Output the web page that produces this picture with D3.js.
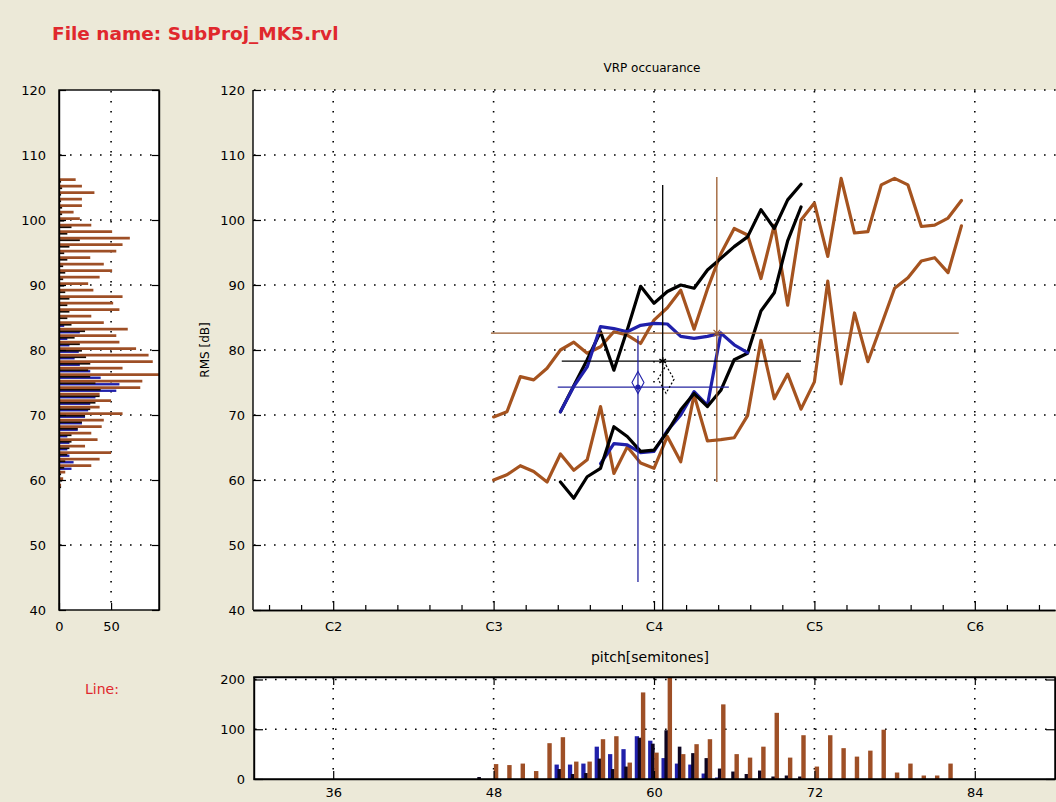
<!DOCTYPE html>
<html>
<head>
<meta charset="utf-8">
<title>VRP occuarance</title>
<script src="https://cdn.jsdelivr.net/npm/d3@7"></script>
<style>
  body { margin: 0; background: #ece9d8; }
  text { font-family: "DejaVu Sans", sans-serif; }
</style>
</head>
<body>
<div id="chart"></div>
<script>
// ---------------- data ----------------
// contour of each take: pitch (semitones) -> upper / lower RMS (dB)
var brownPitch = [48, 49, 50, 51, 52, 53, 54, 55, 56, 57, 58, 59, 60, 61, 62, 63, 64, 65,
                  66, 67, 68, 69, 70, 71, 72, 73, 74, 75, 76, 77, 78, 79, 80, 81, 82, 83];
var brownUpper = [69.7, 70.5, 75.9, 75.4, 77.2, 80.0, 81.2, 79.5, 80.5, 82.8, 82.3, 81.0,
                  84.6, 86.5, 89.2, 83.2, 89.4, 94.8, 98.7, 97.7, 91.0, 99.2, 86.9, 100.0,
                  102.6, 94.4, 106.4, 98.0, 98.2, 105.4, 106.4, 105.4, 99.0, 99.2, 100.3, 103.0];
var brownLower = [60.0, 60.8, 62.2, 61.3, 59.7, 64.0, 61.5, 63.1, 71.3, 61.0, 65.1, 62.6,
                  61.8, 66.7, 62.8, 73.1, 66.0, 66.2, 66.5, 69.9, 81.5, 72.5, 76.3, 70.9,
                  75.1, 90.6, 74.8, 85.7, 78.2, 83.8, 89.5, 91.1, 93.7, 94.2, 91.9, 99.1];

var blackPitch = [53, 54, 55, 56, 57, 58, 59, 60, 61, 62, 63, 64, 65, 66, 67, 68, 69, 70, 71];
var blackUpper = [70.5, 74.5, 78.5, 82.8, 76.9, 83.1, 89.8, 87.2, 89.0, 90.0, 89.5, 92.3,
                  94.1, 95.9, 97.4, 101.6, 98.7, 103.1, 105.5];
var blackLower = [59.7, 57.2, 60.5, 61.8, 68.2, 66.7, 64.4, 64.6, 67.4, 70.8, 73.3, 71.3,
                  73.8, 78.5, 79.5, 86.0, 88.8, 96.8, 102.0];

var bluePitchUp = [53, 54, 55, 56, 57, 58, 59, 60, 61, 62, 63, 64, 65, 66, 67];
var blueUpper = [70.5, 74.4, 77.4, 83.6, 83.3, 82.8, 83.8, 84.1, 84.0, 82.1, 81.8, 82.1, 82.6, 80.8, 79.6];
var bluePitchLow = [56, 57, 58, 59, 60, 61, 62, 63, 64, 65];
var blueLower = [62.5, 65.6, 65.4, 64.2, 64.4, 67.6, 70.0, 73.6, 71.5, 82.6];

// mean +- spread crosshairs (brown, black, blue)
var crossPitch   = [64.7, 60.65, 58.8];
var crossDb      = [82.6, 78.3, 74.3];
var crossPitchLo = [47.8, 53.1, 52.8];
var crossPitchHi = [82.8, 71.0, 65.6];
var crossDbLo    = [59.7, 39.7, 44.3];
var crossDbHi    = [106.6, 105.4, 82.2];

// diamond markers (blue solid, black dotted)
var diamondPitch = [58.8, 60.9];
var diamondDb = [75.0, 75.5];

// RMS histogram (left), 1 dB bins
var dbBins = [59, 60, 61, 62, 63, 64, 65, 66, 67, 68, 69, 70, 71, 72, 73, 74, 75, 76, 77, 78,
              79, 80, 81, 82, 83, 84, 85, 86, 87, 88, 89, 90, 91, 92, 93, 94, 95, 96, 97, 98,
              99, 100, 101, 102, 103, 104, 105, 106];
var dbBrown = [2, 4, 6, 31, 39, 50, 25, 37, 31, 41, 43, 61, 39, 50, 39, 78, 80, 96, 61, 90,
               86, 74, 58, 55, 66, 43, 31, 58, 52, 61, 33, 28, 39, 51, 43, 30, 55, 61, 68, 51,
               31, 20, 14, 22, 22, 34, 22, 16];
var dbBlack = [2, 3, 2, 5, 6, 8, 10, 12, 12, 18, 22, 25, 30, 35, 39, 40, 35, 30, 28, 30,
               26, 22, 20, 15, 25, 12, 8, 10, 8, 10, 6, 5, 4, 6, 4, 8, 5, 10, 20, 8,
               12, 5, 3, 3, 2, 2, 3, 2];
var dbBlue  = [0, 0, 0, 12, 14, 10, 8, 10, 8, 18, 22, 25, 28, 30, 35, 55, 58, 40, 30, 20,
               15, 19, 10, 8, 20, 5, 0, 0, 0, 0, 0, 0, 0, 0, 0, 0, 0, 0, 0, 0,
               0, 0, 0, 0, 0, 0, 0, 0];

// pitch histogram (bottom), 1 semitone bins
var pitchBins = [47, 48, 49, 50, 51, 52, 53, 54, 55, 56, 57, 58, 59, 60, 61, 62, 63, 64,
                 65, 66, 67, 68, 69, 70, 71, 72, 73, 74, 75, 76, 77, 78, 79, 80, 81, 82];
var pitchBrown = [0, 30, 28, 31, 16, 72, 84, 35, 35, 80, 86, 33, 174, 53, 205, 50, 70, 80,
                  150, 50, 43, 65, 133, 43, 88, 25, 88, 62, 45, 57, 99, 13, 31, 7, 7, 31];
var pitchBlack = [4, 0, 0, 0, 0, 0, 20, 10, 12, 41, 20, 25, 83, 71, 98, 65, 52, 42,
                  21, 15, 10, 17, 5, 7, 5, 0, 0, 0, 0, 0, 0, 0, 0, 0, 0, 0];
var pitchBlue = [0, 0, 0, 0, 0, 0, 29, 29, 31, 65, 50, 60, 86, 77, 42, 31, 29, 11,
                 3, 0, 0, 0, 0, 0, 0, 0, 0, 0, 0, 0, 0, 0, 0, 0, 0, 0];

// tick labels
var noteTicks = [36, 48, 60, 72, 84];
var noteNames = ["C2", "C3", "C4", "C5", "C6"];
var dbTicks = [40, 50, 60, 70, 80, 90, 100, 110, 120];
var countTicksLeft = [0, 50];
var countTicksBottom = [0, 100, 200];

// ---------------- colours ----------------
var BROWN = "#a5531f";
var BROWN_BAR = "#9e4f26";
var BLUE = "#2020aa";
var BLACK = "#000";
var RED = "#e0282d";

var svg = d3.select("#chart").append("svg")
    .attr("width", 1056)
    .attr("height", 802)
    .style("display", "block");

svg.append("rect").attr("width", 1056).attr("height", 802).attr("fill", "#ece9d8");

function dotted(g, x1, y1, x2, y2) {
    g.append("line")
        .attr("x1", x1).attr("y1", y1).attr("x2", x2).attr("y2", y2)
        .attr("stroke", "#000")
        .attr("stroke-width", 1.6)
        .attr("stroke-dasharray", "1.6,8.4");
}

function styleAxis(g, size) {
    g.attr("font-family", "DejaVu Sans, sans-serif").attr("font-size", size);
    g.selectAll("path.domain").attr("stroke", "#000").attr("stroke-width", 1.4);
    g.selectAll(".tick line").attr("stroke", "#000").attr("stroke-width", 1.2);
    g.selectAll("text").attr("fill", "#000");
}

// ---------------- scales ----------------
var xMain = d3.scaleLinear().domain([30, 90]).range([253, 1055]);
var yMain = d3.scaleLinear().domain([40, 120]).range([610, 90]);
var xLeft = d3.scaleLinear().domain([0, 96]).range([59, 159]);
var yBot = d3.scaleLinear().domain([0, 205]).range([779, 677]);

// ---------------- texts ----------------
svg.append("text")
    .attr("x", 52).attr("y", 40)
    .attr("font-size", 18.5).attr("font-weight", "bold")
    .attr("fill", RED)
    .text("File name: SubProj_MK5.rvl");

svg.append("text")
    .attr("x", 85).attr("y", 694)
    .attr("font-size", 14)
    .attr("fill", RED)
    .text("Line:");

// =============== main VRP plot ===============
var main = svg.append("g");
main.append("rect").attr("x", 253).attr("y", 90).attr("width", 803).attr("height", 520).attr("fill", "#fff");

svg.append("clipPath").attr("id", "clipMain")
    .append("rect").attr("x", 253).attr("y", 90).attr("width", 803).attr("height", 520);

var gridMain = main.append("g");
dbTicks.slice(1).forEach(v => dotted(gridMain, 254, yMain(v), 1056, yMain(v)));
noteTicks.forEach(v => dotted(gridMain, xMain(v), 91, xMain(v), 609));

var plot = main.append("g").attr("clip-path", "url(#clipMain)");

var line = d3.line()
    .x(d => xMain(d[0]))
    .y(d => yMain(d[1]));

function curve(pitch, values, color) {
    plot.append("path")
        .datum(d3.zip(pitch, values))
        .attr("d", line)
        .attr("fill", "none")
        .attr("stroke", color)
        .attr("stroke-width", 3.2)
        .attr("stroke-linejoin", "round")
        .attr("stroke-linecap", "round");
}

curve(brownPitch, brownUpper, BROWN);
curve(brownPitch, brownLower, BROWN);
curve(bluePitchLow, blueLower, BLUE);
curve(blackPitch, blackUpper, BLACK);
curve(blackPitch, blackLower, BLACK);
curve(bluePitchUp, blueUpper, BLUE);

// crosshairs
var crossColors = ["#9a5a2c", "#000", "#2525a0"];
crossPitch.forEach(function(p, i) {
    plot.append("line")
        .attr("x1", xMain(crossPitchLo[i])).attr("x2", xMain(crossPitchHi[i]))
        .attr("y1", yMain(crossDb[i])).attr("y2", yMain(crossDb[i]))
        .attr("stroke", crossColors[i]).attr("stroke-width", 1.3);
    plot.append("line")
        .attr("x1", xMain(p)).attr("x2", xMain(p))
        .attr("y1", yMain(crossDbLo[i])).attr("y2", yMain(crossDbHi[i]))
        .attr("stroke", crossColors[i]).attr("stroke-width", 1.3);
});

// centre markers
plot.append("path")
    .attr("transform", `translate(${xMain(crossPitch[0])},${yMain(crossDb[0])})`)
    .attr("d", d3.symbol(d3.symbolX, 30)())
    .attr("fill", "none").attr("stroke", crossColors[0]).attr("stroke-width", 1.2);
plot.append("path")
    .attr("transform", `translate(${xMain(crossPitch[1])},${yMain(crossDb[1])})`)
    .attr("d", d3.symbol(d3.symbolAsterisk, 40)())
    .attr("fill", "none").attr("stroke", "#000").attr("stroke-width", 1.5);
plot.append("circle")
    .attr("cx", xMain(crossPitch[2])).attr("cy", yMain(crossDb[2]))
    .attr("r", 2.6).attr("fill", BLUE);

function diamond(cx, cy, hw, hh) {
    return `M${cx},${cy - hh}L${cx + hw},${cy}L${cx},${cy + hh}L${cx - hw},${cy}Z`;
}
plot.append("path")
    .attr("d", diamond(xMain(diamondPitch[0]), yMain(diamondDb[0]), 6, 11))
    .attr("fill", "none").attr("stroke", BLUE).attr("stroke-width", 1.1);
plot.append("path")
    .attr("d", diamond(xMain(diamondPitch[1]), yMain(diamondDb[1]), 8, 14))
    .attr("fill", "none").attr("stroke", "#000").attr("stroke-width", 1.2)
    .attr("stroke-dasharray", "2,2");

// axes
var minorTicks = d3.range(31.2, 89.5, 2.4).filter(v => noteTicks.every(n => Math.abs(n - v) > 0.5));

var axMinor = main.append("g").attr("transform", "translate(0,610)")
    .call(d3.axisBottom(xMain).tickValues(minorTicks).tickFormat("").tickSizeInner(-5).tickSizeOuter(0));
styleAxis(axMinor, 13);

var axX = main.append("g").attr("transform", "translate(0,610)")
    .call(d3.axisBottom(xMain).tickValues(noteTicks).tickFormat((d, i) => noteNames[i])
        .tickSizeInner(-9).tickSizeOuter(0).tickPadding(12));
styleAxis(axX, 13);

var axY = main.append("g").attr("transform", "translate(253,0)")
    .call(d3.axisLeft(yMain).tickValues(dbTicks).tickSizeInner(-8).tickSizeOuter(0).tickPadding(8));
styleAxis(axY, 13);
axY.select("path.domain").attr("d", "M0,90V610");

main.append("text")
    .attr("x", 652).attr("y", 72)
    .attr("text-anchor", "middle").attr("font-size", 12)
    .text("VRP occuarance");

main.append("text")
    .attr("transform", "translate(209,350) rotate(-90)")
    .attr("text-anchor", "middle").attr("font-size", 12)
    .text("RMS [dB]");

main.append("text")
    .attr("x", 650).attr("y", 662)
    .attr("text-anchor", "middle").attr("font-size", 14)
    .text("pitch[semitones]");

// =============== left RMS histogram ===============
var left = svg.append("g");
left.append("rect").attr("x", 59).attr("y", 90).attr("width", 100).attr("height", 520).attr("fill", "#fff");

var gridLeft = left.append("g");
dbTicks.slice(1, -1).forEach(v => dotted(gridLeft, 60, yMain(v), 158, yMain(v)));
dotted(gridLeft, xLeft(50), 91, xLeft(50), 609);

function hbars(values, color, off, h) {
    left.append("g").selectAll("rect")
        .data(d3.zip(dbBins, values).filter(d => d[1] > 0))
        .enter().append("rect")
        .attr("x", xLeft(0))
        .attr("y", d => yMain(d[0] + off + h))
        .attr("height", d => yMain(d[0] + off) - yMain(d[0] + off + h))
        .attr("width", d => Math.min(xLeft(d[1]), 159) - xLeft(0))
        .attr("fill", color);
}
hbars(dbBlue, BLUE, -0.45, 0.36);
hbars(dbBlack, "#1a0d05", -0.25, 0.3);
hbars(dbBrown, BROWN_BAR, 0.0, 0.42);

left.append("rect").attr("x", 59).attr("y", 90).attr("width", 100).attr("height", 520)
    .attr("fill", "none").attr("stroke", "#000").attr("stroke-width", 1.4);

var axLY = left.append("g").attr("transform", "translate(59,0)")
    .call(d3.axisLeft(yMain).tickValues(dbTicks).tickSizeInner(-7).tickSizeOuter(0).tickPadding(13));
styleAxis(axLY, 13);
var axLYr = left.append("g").attr("transform", "translate(159,0)")
    .call(d3.axisRight(yMain).tickValues(dbTicks).tickFormat("").tickSizeInner(-7).tickSizeOuter(0));
styleAxis(axLYr, 13);
var axLX = left.append("g").attr("transform", "translate(0,610)")
    .call(d3.axisBottom(xLeft).tickValues(countTicksLeft).tickSizeInner(-7).tickSizeOuter(0).tickPadding(12));
styleAxis(axLX, 13);
axLX.select("path.domain").remove();

// =============== bottom pitch histogram ===============
var bot = svg.append("g");
bot.append("rect").attr("x", 254).attr("y", 677).attr("width", 801).attr("height", 102).attr("fill", "#fff");

var gridBot = bot.append("g");
countTicksBottom.slice(1).forEach(v => dotted(gridBot, 255, yBot(v), 1054, yBot(v)));
noteTicks.forEach(v => dotted(gridBot, xMain(v), 678, xMain(v), 778));

function vbars(values, color, off, w) {
    bot.append("g").selectAll("rect")
        .data(d3.zip(pitchBins, values).filter(d => d[1] > 0))
        .enter().append("rect")
        .attr("x", d => xMain(d[0] + off))
        .attr("width", xMain(w) - xMain(0))
        .attr("y", d => Math.max(yBot(d[1]), 677))
        .attr("height", d => yBot(0) - Math.max(yBot(d[1]), 677))
        .attr("fill", color);
}
vbars(pitchBlue, BLUE, -0.44, 0.32);
vbars(pitchBlack, "#0d0520", -0.22, 0.27);
vbars(pitchBrown, BROWN_BAR, 0.02, 0.33);

bot.append("rect").attr("x", 254).attr("y", 677).attr("width", 801).attr("height", 102)
    .attr("fill", "none").attr("stroke", "#000").attr("stroke-width", 1.4);

var axBX = bot.append("g").attr("transform", "translate(0,779)")
    .call(d3.axisBottom(xMain).tickValues(noteTicks).tickSizeInner(-8).tickSizeOuter(0).tickPadding(9));
styleAxis(axBX, 13);
var axBXt = bot.append("g").attr("transform", "translate(0,677)")
    .call(d3.axisTop(xMain).tickValues(noteTicks).tickFormat("").tickSizeInner(-8).tickSizeOuter(0));
styleAxis(axBXt, 13);
var axBY = bot.append("g").attr("transform", "translate(254,0)")
    .call(d3.axisLeft(yBot).tickValues(countTicksBottom).tickSizeInner(-9).tickSizeOuter(0).tickPadding(9));
styleAxis(axBY, 13);
var axBYr = bot.append("g").attr("transform", "translate(1055,0)")
    .call(d3.axisRight(yBot).tickValues(countTicksBottom).tickFormat("").tickSizeInner(-9).tickSizeOuter(0));
styleAxis(axBYr, 13);
</script>
</body>
</html>
